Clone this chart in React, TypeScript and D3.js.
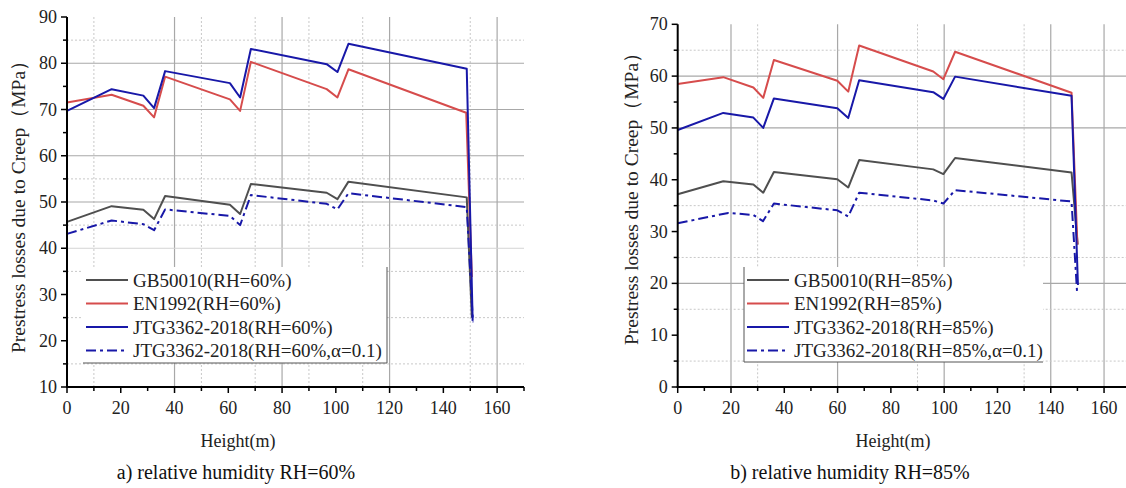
import React from "react";
import * as d3 from "d3";

// ---------- data (Height in m, Prestress loss in MPa) ----------
const xA_gb = [0, 16.6, 28.4, 32.4, 36.5, 60.6, 64.4, 68.4, 96.6, 100.6, 104.7, 148.7, 150.6];
const yA_gb = [45.7, 49.1, 48.3, 46.3, 51.3, 49.4, 47.4, 53.9, 52.0, 50.6, 54.4, 51.0, 25.0];
const xA_en = [0, 16.6, 28.4, 32.4, 36.5, 60.6, 64.4, 68.4, 96.6, 100.6, 104.7, 148.5, 150.6];
const yA_en = [71.5, 73.2, 70.8, 68.3, 77.1, 72.2, 69.7, 80.3, 74.4, 72.6, 78.7, 69.3, 33.8];
const xA_jtg = [0, 16.6, 28.4, 32.4, 36.5, 60.6, 64.4, 68.4, 96.6, 100.6, 104.7, 148.7, 150.9];
const yA_jtg = [69.7, 74.4, 73.0, 70.3, 78.3, 75.7, 72.6, 83.1, 79.8, 78.1, 84.2, 78.8, 24.3];
const xA_jtga = [0, 16.6, 28.4, 32.4, 36.5, 60.6, 64.4, 68.4, 96.6, 100.6, 104.7, 148.7, 151.0];
const yA_jtga = [43.1, 46.0, 45.2, 43.9, 48.4, 47.0, 45.0, 51.5, 49.6, 48.4, 51.9, 48.9, 24.0];

const xB_gb = [0, 17.1, 28.4, 32.1, 36.1, 59.9, 64.0, 68.1, 95.9, 99.7, 104.1, 147.8, 150.1];
const yB_gb = [37.2, 39.7, 39.1, 37.5, 41.5, 40.1, 38.5, 43.8, 42.0, 41.1, 44.2, 41.4, 27.5];
const xB_en = [0, 17.1, 28.4, 32.1, 36.1, 59.9, 64.0, 68.1, 95.9, 99.7, 104.1, 147.8, 150.0];
const yB_en = [58.5, 59.8, 57.8, 55.8, 63.1, 59.1, 57.0, 65.9, 60.9, 59.4, 64.7, 56.8, 27.5];
const xB_jtg = [0, 17.1, 28.4, 32.1, 36.1, 59.9, 64.0, 68.1, 95.9, 99.7, 104.1, 147.8, 150.2];
const yB_jtg = [49.6, 52.9, 52.0, 50.0, 55.7, 53.8, 51.9, 59.2, 56.9, 55.6, 59.9, 56.2, 19.7];
const xB_jtga = [0, 19.0, 28.4, 32.0, 36.1, 59.9, 64.0, 68.1, 95.9, 99.7, 104.1, 147.8, 149.9];
const yB_jtga = [31.6, 33.6, 33.2, 32.0, 35.4, 34.1, 32.9, 37.5, 36.0, 35.4, 38.0, 35.8, 18.1];

const legendA = ["GB50010(RH=60%)", "EN1992(RH=60%)", "JTG3362-2018(RH=60%)", "JTG3362-2018(RH=60%,α=0.1)"];
const legendB = ["GB50010(RH=85%)", "EN1992(RH=85%)", "JTG3362-2018(RH=85%)", "JTG3362-2018(RH=85%,α=0.1)"];

const xTicks = [0, 20, 40, 60, 80, 100, 120, 140, 160];
const xMinor = [10, 30, 50, 70, 90, 110, 130, 150, 170];
const yTicksA = [10, 20, 30, 40, 50, 60, 70, 80, 90];
const yMinorA = [15, 25, 35, 45, 55, 65, 75, 85];
const yTicksB = [0, 10, 20, 30, 40, 50, 60, 70];
const yMinorB = [5, 15, 25, 35, 45, 55, 65];

// grid lines
const vSolidA = [40, 80, 120, 160];
const vDotA = [10, 50, 70, 90, 110, 150];
const hSolidA = [50, 60, 70, 80];
const hLightA = [40];
const hDotA = [15, 25, 35, 45, 55, 85];

const vSolidB = [20, 60, 100, 140, 160];
const vDotB = [30, 90, 130];
const hSolidB = [50, 60, 20];
const hLightB: number[] = [];
const hDotB = [5, 15, 25, 35, 65];

const COLORS = ["#4f4f4f", "#d64c4c", "#1818a8", "#1818a8"];
const DASHES = [null, null, null, "10,4,3,4"];

const FONT = "'Liberation Serif', 'Times New Roman', serif";

type PanelProps = {
  xs: number[][];
  ys: number[][];
  labels: string[];
  x0: number;
  x1: number;
  yDomain: [number, number];
  yTop: number;
  yBottom: number;
  yTicks: number[];
  yMinor: number[];
  vSolid: number[];
  vDot: number[];
  hSolid: number[];
  hLight: number[];
  hDot: number[];
  legend: { x: number; y: number; w: number; h: number; side: "left" | "right" };
  yTitleX: number;
  yTitleY: number;
  xTitleX: number;
  caption: string;
  captionX: number;
};

function Panel(p: PanelProps) {
  const x = d3.scaleLinear().domain([0, 170]).range([p.x0, p.x1]);
  const y = d3.scaleLinear().domain(p.yDomain).range([p.yBottom, p.yTop]);
  const line = d3
    .line<[number, number]>()
    .x((d) => x(d[0]))
    .y((d) => y(d[1]));
  const lg = p.legend;
  return (
    <g>
      {/* grid */}
      {p.vDot.map((v) => (
        <line key={"vd" + v} x1={x(v)} x2={x(v)} y1={p.yTop} y2={p.yBottom} stroke="#c8c8c8" strokeWidth={1} strokeDasharray="2,2" />
      ))}
      {p.vSolid.map((v) => (
        <line key={"vs" + v} x1={x(v)} x2={x(v)} y1={p.yTop} y2={p.yBottom} stroke="#a8a8a8" strokeWidth={1.2} />
      ))}
      {p.hDot.map((v) => (
        <line key={"hd" + v} x1={p.x0} x2={p.x1} y1={y(v)} y2={y(v)} stroke="#c8c8c8" strokeWidth={1} strokeDasharray="2,2" />
      ))}
      {p.hLight.map((v) => (
        <line key={"hl" + v} x1={p.x0} x2={p.x1} y1={y(v)} y2={y(v)} stroke="#d4d4d4" strokeWidth={1} />
      ))}
      {p.hSolid.map((v) => (
        <line key={"hs" + v} x1={p.x0} x2={p.x1} y1={y(v)} y2={y(v)} stroke="#a8a8a8" strokeWidth={1.2} />
      ))}

      {/* series */}
      {p.xs.map((xx, i) => {
        const pts = xx.map((v, j) => [v, p.ys[i][j]] as [number, number]);
        return (
          <path
            key={"s" + i}
            d={line(pts) || ""}
            fill="none"
            stroke={COLORS[i]}
            strokeWidth={2}
            strokeDasharray={DASHES[i] || undefined}
            strokeLinejoin="round"
          />
        );
      })}

      {/* legend */}
      <rect x={lg.x} y={lg.y} width={lg.w} height={lg.h} fill="#ffffff" />
      <line x1={lg.x} x2={lg.x + lg.w} y1={lg.y + lg.h} y2={lg.y + lg.h} stroke="#555" strokeWidth={1} />
      {lg.side === "right" ? (
        <line x1={lg.x + lg.w} x2={lg.x + lg.w} y1={lg.y} y2={lg.y + lg.h} stroke="#555" strokeWidth={1} />
      ) : (
        <line x1={lg.x} x2={lg.x} y1={lg.y} y2={lg.y + lg.h} stroke="#555" strokeWidth={1} />
      )}
      {p.labels.map((t, i) => {
        const ry = lg.y + 13 + i * 23.5;
        return (
          <g key={"l" + i}>
            <line x1={lg.x + 3} x2={lg.x + 45} y1={ry} y2={ry} stroke={COLORS[i]} strokeWidth={2} strokeDasharray={DASHES[i] || undefined} />
            <text x={lg.x + 50} y={ry + 6.5} fontFamily={FONT} fontSize={19} fill="#222">
              {t}
            </text>
          </g>
        );
      })}

      {/* axes */}
      <line x1={p.x0} x2={p.x0} y1={p.yTop} y2={p.yBottom + 1} stroke="#000" strokeWidth={2} />
      <line x1={p.x0 - 1} x2={p.x1} y1={p.yBottom} y2={p.yBottom} stroke="#000" strokeWidth={2} />
      {p.yTicks.map((v) => (
        <g key={"yt" + v}>
          <line x1={p.x0 - 6} x2={p.x0} y1={y(v)} y2={y(v)} stroke="#000" strokeWidth={1.5} />
          <text x={p.x0 - 10} y={y(v) + 6} textAnchor="end" fontFamily={FONT} fontSize={18} fill="#222">
            {v}
          </text>
        </g>
      ))}
      {p.yMinor.map((v) => (
        <line key={"ym" + v} x1={p.x0 - 4} x2={p.x0} y1={y(v)} y2={y(v)} stroke="#000" strokeWidth={1.5} />
      ))}
      {xTicks.map((v) => (
        <g key={"xt" + v}>
          <line x1={x(v)} x2={x(v)} y1={p.yBottom} y2={p.yBottom + 6} stroke="#000" strokeWidth={1.5} />
          <text x={x(v)} y={p.yBottom + 27} textAnchor="middle" fontFamily={FONT} fontSize={18} fill="#222">
            {v}
          </text>
        </g>
      ))}
      {xMinor.map((v) => (
        <line key={"xm" + v} x1={x(v)} x2={x(v)} y1={p.yBottom} y2={p.yBottom + 4} stroke="#000" strokeWidth={1.5} />
      ))}

      {/* titles */}
      <text
        transform={`translate(${p.yTitleX},${p.yTitleY}) rotate(-90)`}
        textAnchor="middle"
        fontFamily={FONT}
        fontSize={19.5}
        fill="#222"
      >
        Prestress losses due to Creep（MPa）
      </text>
      <text x={p.xTitleX} y={p.yBottom + 60} textAnchor="middle" fontFamily={FONT} fontSize={18} fill="#222">
        Height(m)
      </text>
      <text x={p.captionX} y={479} textAnchor="middle" fontFamily={FONT} fontSize={20} fill="#111">
        {p.caption}
      </text>
    </g>
  );
}

export default function App() {
  return (
    <svg width={1126} height={488} style={{ position: "absolute", left: 0, top: 0, background: "#fff" }}>
      <rect x={0} y={0} width={1126} height={488} fill="#fff" />
      <Panel
        xs={[xA_gb, xA_en, xA_jtg, xA_jtga]}
        ys={[yA_gb, yA_en, yA_jtg, yA_jtga]}
        labels={legendA}
        x0={67}
        x1={524}
        yDomain={[10, 90]}
        yTop={17}
        yBottom={387}
        yTicks={yTicksA}
        yMinor={yMinorA}
        vSolid={vSolidA}
        vDot={vDotA}
        hSolid={hSolidA}
        hLight={hLightA}
        hDot={hDotA}
        legend={{ x: 83, y: 267, w: 304, h: 96, side: "right" }}
        yTitleX={25}
        yTitleY={202}
        xTitleX={238}
        caption="a) relative humidity RH=60%"
        captionX={236}
      />
      <Panel
        xs={[xB_gb, xB_en, xB_jtg, xB_jtga]}
        ys={[yB_gb, yB_en, yB_jtg, yB_jtga]}
        labels={legendB}
        x0={677.7}
        x1={1130.7}
        yDomain={[0, 70]}
        yTop={24.3}
        yBottom={387}
        yTicks={yTicksB}
        yMinor={yMinorB}
        vSolid={vSolidB}
        vDot={vDotB}
        hSolid={hSolidB}
        hLight={hLightB}
        hDot={hDotB}
        legend={{ x: 744, y: 267, w: 299, h: 95, side: "left" }}
        yTitleX={638}
        yTitleY={194}
        xTitleX={893}
        caption="b) relative humidity RH=85%"
        captionX={850}
      />
    </svg>
  );
}
